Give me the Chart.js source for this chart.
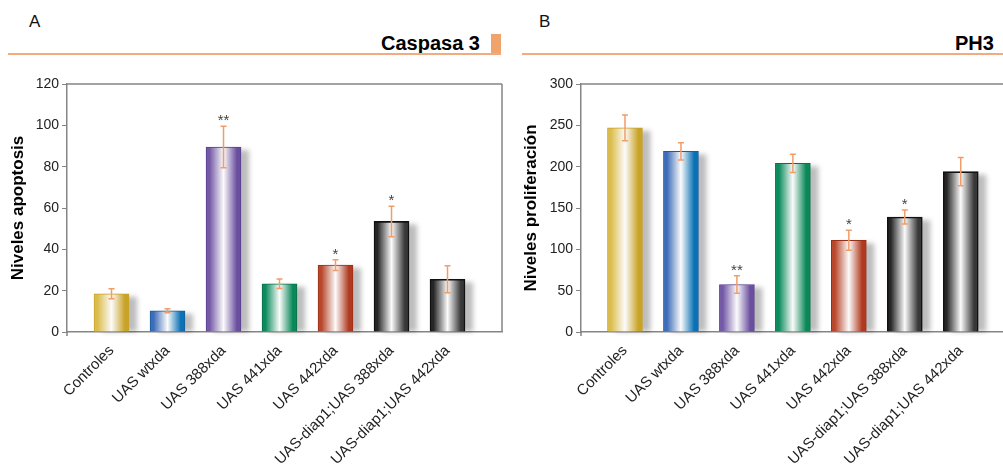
<!DOCTYPE html>
<html>
<head>
<meta charset="utf-8">
<script src="https://cdn.jsdelivr.net/npm/chart.js@4.4.1/dist/chart.umd.min.js"></script>
<style>
  html, body { margin: 0; padding: 0; background: #fff; }
  body { width: 1003px; height: 466px; position: relative; overflow: hidden;
         font-family: "Liberation Sans", Arial, sans-serif; }
  canvas { position: absolute; top: 0; }
  .panel-letter { position: absolute; top: 12px; font-size: 17px; color: #111; }
  .panel-title { position: absolute; top: 32px; font-size: 20px; font-weight: bold; color: #000; }
  .rule { position: absolute; height: 2px; background: #f2ab80; }
  .tag { position: absolute; background: #f0a46c; }
</style>
</head>
<body>
<div class="panel-letter" style="left:29px">A</div>
<div class="panel-title" style="left:381px">Caspasa 3</div>
<div class="tag" style="left:491px; top:34px; width:10px; height:21px"></div>
<div class="rule" style="left:8px; top:53px; width:493px"></div>

<div class="panel-letter" style="left:539px">B</div>
<div class="panel-title" style="left:955px">PH3</div>
<div class="rule" style="left:522px; top:53px; width:481px"></div>

<canvas id="chartA" width="515" height="466" style="left:0"></canvas>
<canvas id="chartB" width="488" height="466" style="left:515px"></canvas>

<script>
// Genotypes on the x axis
const categories = ['Controles', 'UAS wtxda', 'UAS 388xda', 'UAS 441xda', 'UAS 442xda',
                    'UAS-diap1;UAS 388xda', 'UAS-diap1;UAS 442xda'];

// Caspasa 3 (apoptosis)
const caspasaValues = [18.5, 10.3, 89.5, 23.3, 32.4, 53.5, 25.5];
const caspasaErrors = [2.4, 1.0, 10.0, 2.3, 2.6, 7.4, 6.5];
const caspasaSig = ['', '', '**', '', '*', '*', ''];
const caspasaTicks = [0, 20, 40, 60, 80, 100, 120];

// PH3 (proliferation)
const ph3Values = [247, 218.5, 57.5, 204, 111, 139, 194];
const ph3Errors = [15.5, 10.5, 10.5, 11, 12, 8.5, 17];
const ph3Sig = ['', '', '**', '', '*', '*', ''];
const ph3Ticks = [0, 50, 100, 150, 200, 250, 300];

// Bar shading: [left edge, right edge, border]
const barShades = [
  ['#dcbd4c', '#c9a328', '#c7a22a'],
  ['#3d6db8', '#0a71b4', '#1a5c9c'],
  ['#7459a7', '#6a4f9e', '#563e8e'],
  ['#0c8b5d', '#0a8858', '#08704a'],
  ['#b9472b', '#b03a1f', '#983018'],
  ['#262626', '#383838', '#111111'],
  ['#262626', '#383838', '#111111']
];

const FONT = '"Liberation Sans", Arial, sans-serif';
const AXIS_GREY = '#858585';
const ERR_COLOR = '#f19d68';

function barGradient(ctx) {
  const chart = ctx.chart;
  const i = ctx.dataIndex;
  const shade = barShades[i];
  if (!chart.chartArea || !chart.scales.x) return shade[0];
  const cx = chart.scales.x.getPixelForValue(i);
  const half = 17.5;
  const g = chart.ctx.createLinearGradient(cx - half, 0, cx + half, 0);
  g.addColorStop(0, shade[0]);
  g.addColorStop(0.1, shade[0]);
  g.addColorStop(0.5, '#fbfbfb');
  g.addColorStop(0.88, shade[1]);
  g.addColorStop(1, shade[1]);
  return g;
}

// Soft grey shadow to the right of each bar, then error bars and significance marks on top
const barDecor = {
  id: 'barDecor',
  beforeDatasetsDraw(chart) {
    const c = chart.ctx;
    const meta = chart.getDatasetMeta(0);
    c.save();
    c.filter = 'blur(2.5px)';
    c.fillStyle = 'rgba(0,0,0,0.26)';
    meta.data.forEach((bar) => {
      const p = bar.getProps(['x', 'y', 'base', 'width'], true);
      const top = p.y + 3;
      c.fillRect(p.x - p.width / 2 + 8, top, p.width, p.base - top);
    });
    c.restore();
  },
  afterDatasetsDraw(chart, args, opts) {
    const c = chart.ctx;
    const xs = chart.scales.x, ys = chart.scales.y;
    c.save();
    c.strokeStyle = ERR_COLOR;
    c.lineWidth = 1.5;
    opts.values.forEach((v, i) => {
      const x = xs.getPixelForValue(i);
      const yTop = ys.getPixelForValue(v + opts.errors[i]);
      const yBot = ys.getPixelForValue(v - opts.errors[i]);
      c.beginPath();
      c.moveTo(x, yTop); c.lineTo(x, yBot);
      c.moveTo(x - 3, yTop); c.lineTo(x + 3, yTop);
      c.moveTo(x - 3, yBot); c.lineTo(x + 3, yBot);
      c.stroke();
      if (opts.sig[i]) {
        c.fillStyle = '#444';
        c.font = '15px ' + FONT;
        c.textAlign = 'center';
        c.textBaseline = 'alphabetic';
        c.fillText(opts.sig[i], x, yTop - 1);
      }
    });
    c.restore();
  }
};

// Top (and optionally right) frame lines, plus the short y-axis stub below zero
const frame = {
  id: 'frame',
  afterDraw(chart, args, opts) {
    const { left, right, top, bottom } = chart.chartArea;
    const c = chart.ctx;
    c.save();
    c.strokeStyle = AXIS_GREY;
    c.lineWidth = 1.5;
    c.beginPath();
    c.moveTo(left, top); c.lineTo(right, top);
    if (opts.rightEdge) { c.moveTo(right, top); c.lineTo(right, bottom); }
    c.moveTo(left, bottom); c.lineTo(left, bottom + 4);
    c.stroke();
    c.restore();
  }
};

function makeChart(id, cfg) {
  const data = cfg.values.map((v, i) => ({ x: i, y: v }));
  return new Chart(document.getElementById(id), {
    type: 'bar',
    data: {
      datasets: [{
        data,
        backgroundColor: barGradient,
        borderColor: (ctx) => barShades[ctx.dataIndex][2],
        borderWidth: (ctx) => ctx.dataIndex >= 5 ? 1.6 : 1,
        borderSkipped: 'bottom',
        barThickness: 35
      }]
    },
    options: {
      responsive: false,
      animation: false,
      events: [],
      layout: { padding: { top: 84, right: cfg.padRight, left: 0, bottom: 0 } },
      plugins: {
        legend: { display: false },
        tooltip: { enabled: false },
        barDecor: { values: cfg.values, errors: cfg.errors, sig: cfg.sig },
        frame: { rightEdge: cfg.rightEdge }
      },
      scales: {
        x: {
          type: 'linear',
          min: cfg.xMin,
          max: cfg.xMax,
          offset: false,
          grid: { display: false, offset: false },
          border: { display: true, color: AXIS_GREY, width: 1.5 },
          afterBuildTicks: (scale) => { scale.ticks = categories.map((c, i) => ({ value: i })); },
          afterFit: (scale) => { scale.height = 134; },
          ticks: {
            autoSkip: false,
            minRotation: 45,
            maxRotation: 45,
            padding: 2,
            color: '#222',
            font: { family: FONT, size: 15 },
            callback: (v) => categories[v]
          }
        },
        y: {
          min: 0,
          max: cfg.ticks[cfg.ticks.length - 1],
          afterBuildTicks: (scale) => { scale.ticks = cfg.ticks.map(v => ({ value: v })); },
          afterFit: (scale) => { scale.width = cfg.yWidth; },
          grid: { drawOnChartArea: false, drawTicks: true, tickLength: 5, color: AXIS_GREY, lineWidth: 1 },
          border: { display: true, color: AXIS_GREY, width: 1.5 },
          ticks: { padding: 3, color: '#222', font: { family: FONT, size: 14 } },
          title: {
            display: true,
            text: cfg.title,
            color: '#000',
            font: { family: FONT, size: 17, weight: 'bold' },
            padding: { top: cfg.titlePad, bottom: 0 }
          }
        }
      }
    },
    plugins: [barDecor, frame]
  });
}

makeChart('chartA', {
  values: caspasaValues, errors: caspasaErrors, sig: caspasaSig, ticks: caspasaTicks,
  title: 'Niveles apoptosis', yWidth: 67, padRight: 13, rightEdge: true,
  xMin: -0.795, xMax: 6.973, titlePad: 8
});

makeChart('chartB', {
  values: ph3Values, errors: ph3Errors, sig: ph3Sig, ticks: ph3Ticks,
  title: 'Niveles proliferación', yWidth: 66, padRight: 0, rightEdge: false,
  xMin: -0.786, xMax: 6.755, titlePad: 6
});
</script>
</body>
</html>
